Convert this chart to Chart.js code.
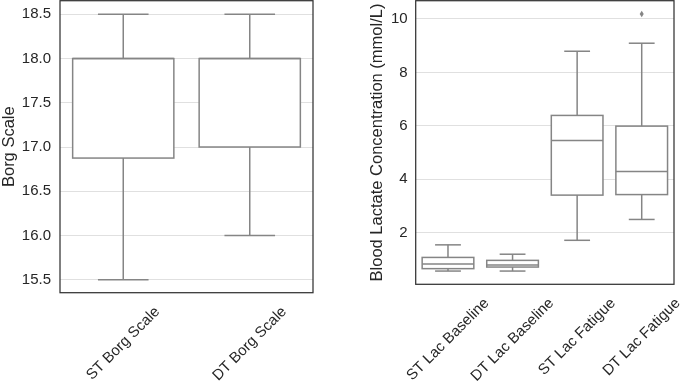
<!DOCTYPE html>
<html>
<head>
<meta charset="utf-8">
<script src="https://cdn.jsdelivr.net/npm/chart.js@4"></script>
<style>
html, body { margin: 0; padding: 0; background: #fff; }
#wrap { position: relative; width: 685px; height: 383px; overflow: hidden; }
.panel { position: absolute; top: 0; height: 383px; }
</style>
</head>
<body>
<div id="wrap">
  <div class="panel" style="left:0;width:320px"><canvas id="borgChart"></canvas></div>
  <div class="panel" style="left:340px;width:345px"><canvas id="lacChart"></canvas></div>
</div>
<script>
// Borg scale boxes
var borgLabels = ['ST Borg Scale', 'DT Borg Scale'];
var borgMin    = [15.5, 16.0];
var borgQ1     = [16.875, 17.0];
var borgMedian = [18.0, 18.0];
var borgQ3     = [18.0, 18.0];
var borgMax    = [18.5, 18.5];
var borgFliers = [[], []];
var borgTicks  = [15.5, 16.0, 16.5, 17.0, 17.5, 18.0, 18.5];

// Blood lactate boxes
var lacLabels = ['ST Lac Baseline', 'DT Lac Baseline', 'ST Lac Fatigue', 'DT Lac Fatigue'];
var lacMin    = [0.57, 0.57, 1.72, 2.50];
var lacQ1     = [0.66, 0.72, 3.41, 3.43];
var lacMedian = [0.83, 0.80, 5.45, 4.29];
var lacQ3     = [1.08, 0.97, 6.39, 5.99];
var lacMax    = [1.55, 1.20, 8.79, 9.09];
var lacFliers = [[], [], [], [10.18]];
var lacTicks  = [2, 4, 6, 8, 10];

var FONT = '"Liberation Sans", Arial, sans-serif';
var TEXT = '#262626';
var LINE = '#858585';
var GRID = '#e0e0e0';
var FRAME = '#333333';

function boxPlugin(s) {
  return {
    id: 'boxParts',
    afterDatasetsDraw: function(chart) {
      var ctx = chart.ctx;
      var meta = chart.getDatasetMeta(0);
      var y = chart.scales.y;
      function line(x1, y1, x2, y2) {
        ctx.beginPath(); ctx.moveTo(x1, y1); ctx.lineTo(x2, y2); ctx.stroke();
      }
      ctx.save();
      ctx.strokeStyle = LINE;
      ctx.fillStyle = LINE;
      ctx.lineWidth = 1.5;
      s.labels.forEach(function(lab, i) {
        var bar = meta.data[i];
        var x = bar.x, half = bar.width / 2;
        var yMin = y.getPixelForValue(s.min[i]);
        var yMax = y.getPixelForValue(s.max[i]);
        var yQ1 = y.getPixelForValue(s.q1[i]);
        var yQ3 = y.getPixelForValue(s.q3[i]);
        ctx.strokeRect(x - half, yQ3, 2 * half, yQ1 - yQ3);
        line(x, yQ1, x, yMin);
        line(x, yQ3, x, yMax);
        line(x - half / 2, yMin, x + half / 2, yMin);
        line(x - half / 2, yMax, x + half / 2, yMax);
        var yMed = y.getPixelForValue(s.median[i]);
        line(x - half, yMed, x + half, yMed);
        s.fliers[i].forEach(function(v) {
          var py = y.getPixelForValue(v);
          ctx.beginPath();
          ctx.moveTo(x, py - 3.2); ctx.lineTo(x + 2, py);
          ctx.lineTo(x, py + 3.2); ctx.lineTo(x - 2, py);
          ctx.closePath(); ctx.fill();
        });
      });
      ctx.restore();
    },
    afterDraw: function(chart) {
      var ctx = chart.ctx, a = chart.chartArea, xs = chart.scales.x;
      ctx.save();
      ctx.strokeStyle = FRAME;
      ctx.lineWidth = 1.25;
      ctx.strokeRect(a.left, a.top, a.right - a.left, a.bottom - a.top);
      // rotated category labels, centred on their tick like the original
      ctx.font = '15px ' + FONT;
      ctx.fillStyle = TEXT;
      ctx.textAlign = 'center';
      ctx.textBaseline = 'middle';
      var h = 15 * 1.15;
      s.labels.forEach(function(lab, i) {
        var w = ctx.measureText(lab).width;
        var sz = (w + h) / (2 * Math.SQRT2);
        ctx.save();
        ctx.translate(xs.getPixelForValue(i), a.bottom + 10.5 + sz);
        ctx.rotate(-Math.PI / 4);
        ctx.fillText(lab, 0, 0);
        ctx.restore();
      });
      ctx.restore();
    }
  };
}

function boxChart(id, s) {
  return new Chart(document.getElementById(id), {
    type: 'bar',
    data: {
      labels: s.labels,
      datasets: [{
        data: s.q1.map(function(v, i) { return [v, s.q3[i]]; }),
        backgroundColor: '#ffffff',
        borderWidth: 0,
        borderSkipped: false,
        barPercentage: 0.8,
        categoryPercentage: 1.0
      }]
    },
    options: {
      animation: false,
      responsive: true,
      maintainAspectRatio: false,
      layout: { padding: s.padding },
      plugins: { legend: { display: false }, tooltip: { enabled: false } },
      scales: {
        x: {
          grid: { display: false },
          border: { display: false },
          ticks: { display: false },
          afterFit: function(sc) { sc.height = s.xHeight; sc.paddingLeft = 0; sc.paddingRight = 0; }
        },
        y: {
          min: s.yMin,
          max: s.yMax,
          grid: { color: GRID, lineWidth: 1, drawTicks: false },
          border: { display: false },
          ticks: {
            padding: s.tickPad,
            color: TEXT,
            font: { family: FONT, size: 15 },
            callback: function(v) { return s.fmt(v); }
          },
          afterBuildTicks: function(sc) { sc.ticks = s.ticks.map(function(v) { return { value: v }; }); },
          afterFit: function(sc) { sc.width = s.yWidth; sc.paddingTop = 0; sc.paddingBottom = 0; },
          title: {
            display: true,
            text: s.title,
            color: TEXT,
            font: { family: FONT, size: 16.5, lineHeight: 1.1 },
            padding: { top: 0, bottom: 0 }
          }
        }
      }
    },
    plugins: [boxPlugin(s)]
  });
}

var borgChart = boxChart('borgChart', {
  labels: borgLabels, min: borgMin, q1: borgQ1, median: borgMedian, q3: borgQ3, max: borgMax,
  fliers: borgFliers, ticks: borgTicks,
  yMin: 15.353, yMax: 18.654,
  fmt: function(v) { return v.toFixed(1); },
  title: 'Borg Scale',
  padding: { left: 0, right: 7, top: 0.7, bottom: 0 },
  yWidth: 60, xHeight: 90.3, tickPad: 9
});

var lacChart = boxChart('lacChart', {
  labels: lacLabels, min: lacMin, q1: lacQ1, median: lacMedian, q3: lacQ3, max: lacMax,
  fliers: lacFliers, ticks: lacTicks,
  yMin: 0.075, yMax: 10.68,
  fmt: function(v) { return String(v); },
  title: 'Blood Lactate Concentration (mmol/L)',
  padding: { left: 28, right: 11, top: 0.7, bottom: 0 },
  yWidth: 47.7, xHeight: 98.7, tickPad: 8
});
</script>
</body>
</html>
